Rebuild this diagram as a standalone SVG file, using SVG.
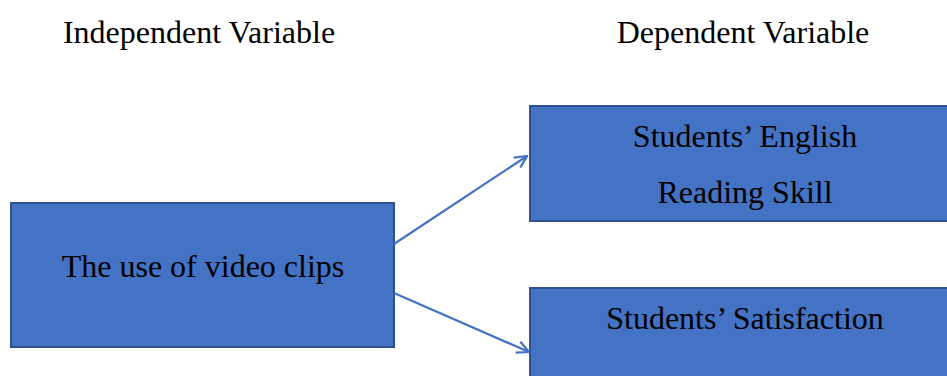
<svg xmlns="http://www.w3.org/2000/svg" width="947" height="376" viewBox="0 0 947 376">
<style>
.box{fill:#4472C4;stroke:#2F528F;stroke-width:2}
.t{font-family:"Liberation Serif","Times New Roman",serif;font-size:32px;fill:#000;text-anchor:middle}
.c{stroke:#4472C4;stroke-width:2.2;fill:none}
</style>
<defs>
<marker id="ah" viewBox="0 0 14 14" refX="13" refY="7" markerWidth="14" markerHeight="14" markerUnits="userSpaceOnUse" orient="auto">
<path d="M1,1 L13,7 L1,13" fill="none" stroke="#4472C4" stroke-width="2.2"/>
</marker>
</defs>
<rect width="947" height="376" fill="#fff"/>
<g id="header-independent"><text class="t" x="199" y="43">Independent Variable</text></g>
<g id="header-dependent"><text class="t" x="743" y="43">Dependent Variable</text></g>
<g id="node-video"><rect class="box" x="11" y="203" width="383" height="144"/><text class="t" x="203" y="277">The use of video clips</text></g>
<g id="node-reading"><rect class="box" x="530" y="106" width="420" height="115"/><text class="t" x="745" y="147">Students’ English</text><text class="t" x="745" y="203">Reading Skill</text></g>
<g id="node-satisfaction"><rect class="box" x="530" y="288" width="420" height="100"/><text class="t" x="745" y="329">Students’ Satisfaction</text></g>
<g id="connectors">
<line class="c" x1="394" y1="244" x2="527" y2="156" marker-end="url(#ah)"/>
<line class="c" x1="394" y1="293" x2="529" y2="352" marker-end="url(#ah)"/>
</g>
</svg>
